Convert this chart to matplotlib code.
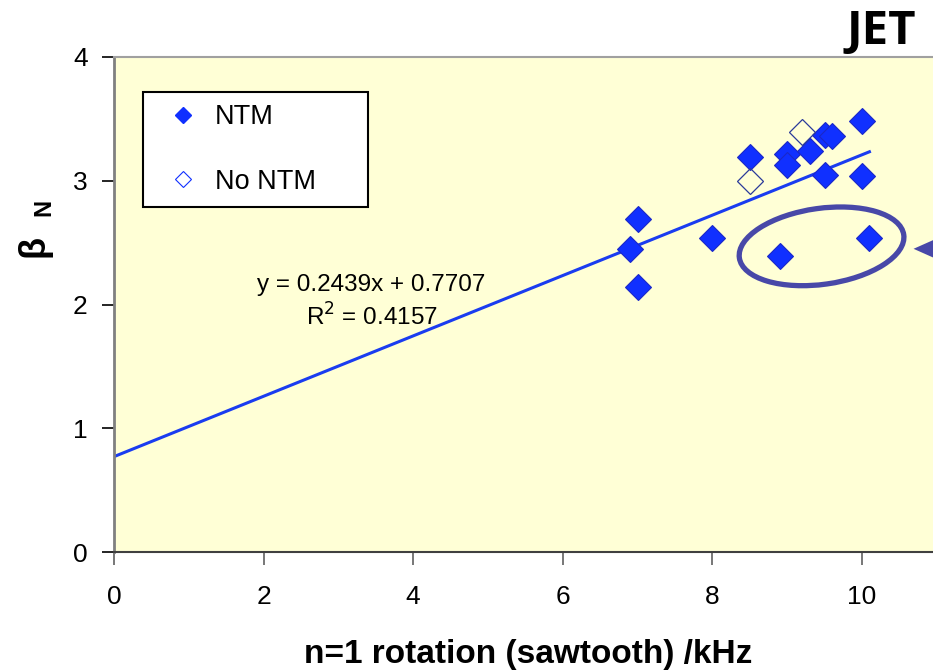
import numpy as np
import matplotlib
matplotlib.use("Agg")
import matplotlib.pyplot as plt
from matplotlib.lines import Line2D
from matplotlib.patches import Ellipse, Polygon
from matplotlib.transforms import ScaledTranslation

plt.rcParams["font.family"] = ["Liberation Sans", "DejaVu Sans"]

# shots with NTM
ntm_rot = [7.0, 6.9, 7.0, 8.0, 8.5, 8.9, 9.0, 9.0, 9.3, 9.5, 9.6, 9.5, 10.0, 10.0, 10.1]
ntm_beta = [2.69, 2.45, 2.14, 2.54, 3.19, 2.39, 3.22, 3.13, 3.24, 3.37, 3.36, 3.05, 3.48, 3.04, 2.54]
# shots without NTM
no_ntm_rot = [8.5, 9.2]
no_ntm_beta = [3.00, 3.39]

# linear trendline (as printed on the chart)
fit_slope = 0.2439
fit_intercept = 0.7707
fit_x = [0.0, 10.1]
fit_r2 = 0.4157

x_ticks = [0, 2, 4, 6, 8, 10]
y_ticks = [0, 1, 2, 3, 4]

W, H = 933, 672
fig = plt.figure(figsize=(W / 100, H / 100), dpi=100)
ax = fig.add_axes([114 / W, 1 - 552 / H, (W - 114) / W, (552 - 57) / H])
ax.set_facecolor("#ffffd6")
ax.set_xlim(0, 10.95)
ax.set_ylim(0, 4)

blue = "#1030ff"
ax.plot(fit_x, [fit_slope * x + fit_intercept for x in fit_x], color="#1a3cf0", lw=2.2, zorder=2)
ax.plot(ntm_rot, ntm_beta, ls="none", marker="D", ms=13.5, mfc=blue, mec="#1a28c8", mew=0.8, zorder=3)
ax.plot(no_ntm_rot, no_ntm_beta, ls="none", marker="D", ms=13.5, mfc="none", mec="#2a3a9a", mew=0.9, zorder=3)

ax.text(3.44, 2.16, f"y = {fit_slope}x + {fit_intercept}", ha="center", va="center", fontsize=17.5)
ax.text(3.44, 1.90, f"R$^2$ = {fit_r2}", ha="center", va="center", fontsize=17.5)

# highlighted group
tr = fig.dpi_scale_trans + ScaledTranslation(9.46, 2.47, ax.transData)
ax.add_patch(Ellipse((0, 0), 1.66, 0.76, angle=8, transform=tr, fill=False,
                     ec="#4848a8", lw=3.8, zorder=4))
tr2 = fig.dpi_scale_trans + ScaledTranslation(10.69, 2.45, ax.transData)
ax.add_patch(Polygon([[0, 0], [0.45, 0.2], [0.45, -0.2]], closed=True, transform=tr2,
                     fc="#4848a8", ec="none", clip_on=False, zorder=4))

ax.set_xticks(x_ticks)
ax.set_yticks(y_ticks)
ax.tick_params(axis="both", labelsize=19, length=9, width=1.2, direction="out")
ax.tick_params(axis="x", pad=14.5, colors="#606060", labelcolor="black")
ax.tick_params(axis="y", pad=10, colors="black")
ax.spines["left"].set_color("#808080")
ax.spines["left"].set_linewidth(2)
ax.spines["bottom"].set_color("#404040")
ax.spines["bottom"].set_linewidth(1.5)
ax.spines["top"].set_color("#a0a0a0")
ax.spines["top"].set_linewidth(1.5)
ax.spines["right"].set_visible(False)

fig.text(528 / W, 2 / H, "n=1 rotation (sawtooth) /kHz", fontsize=24, fontweight="bold",
         ha="center", va="bottom")

fig.text(34 / W, 1 - 246 / H, "β", rotation=90, fontsize=26, fontweight="bold", ha="center", va="center")
fig.text(44 / W, 1 - 207 / H, "N", rotation=90, fontsize=17, fontweight="bold", ha="center", va="center")
fig.text(881 / W, 1 - 32 / H, "JET", fontsize=34, fontweight="bold", family=["Open Sans", "DejaVu Sans"],
         ha="center", va="center")

handles = [
    Line2D([], [], ls="none", marker="D", ms=8, mfc=blue, mec=blue),
    Line2D([], [], ls="none", marker="D", ms=8, mfc="white", mec="#1030ff", mew=0.8),
]
leg = ax.legend(handles, ["NTM", "No NTM"], loc="upper left",
                bbox_to_anchor=((143 - 114) / 819, (552 - 92) / 495, 225 / 819, 0.0),
                mode="expand", fontsize=19.5, frameon=True, fancybox=False, framealpha=1,
                edgecolor="black", facecolor="white", borderaxespad=0, borderpad=0.45,
                labelspacing=1.42, handletextpad=0.15, handlelength=2.05)
leg.get_frame().set_linewidth(1.5)

fig.savefig("out.png", dpi=100)
